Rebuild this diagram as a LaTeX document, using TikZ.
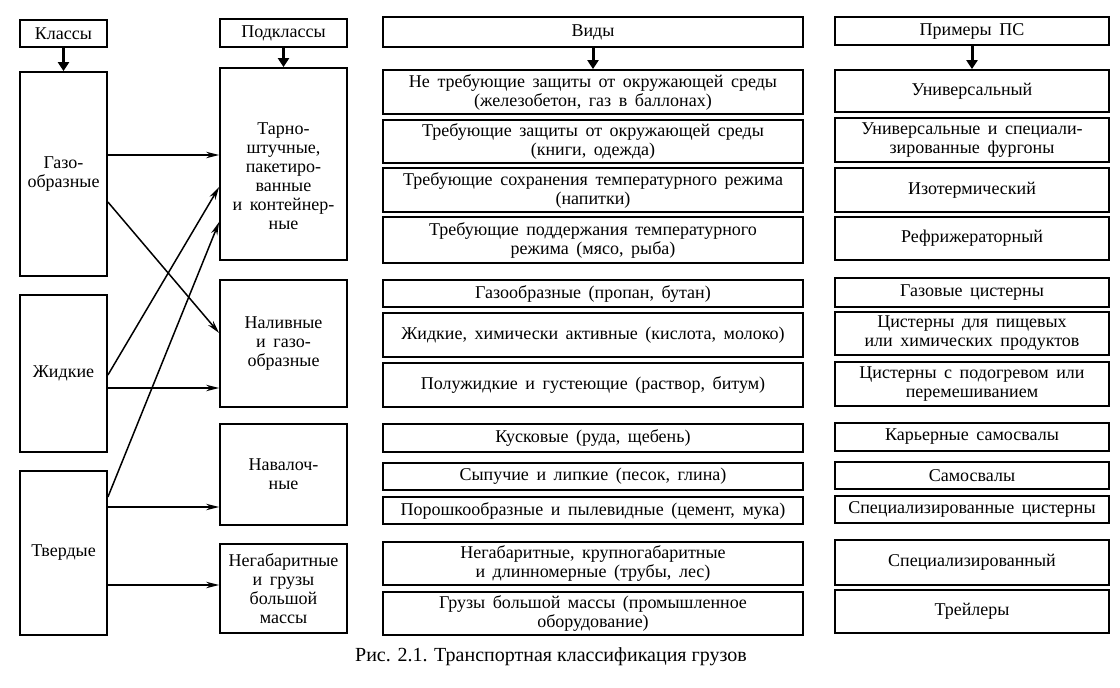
\documentclass[tikz,border=0pt]{standalone}
\usepackage{fontspec}
\setmainfont{Liberation Serif}
\usetikzlibrary{arrows.meta,positioning,calc}

\newcommand\boxfont{\fontsize{18}{19}\selectfont
  \spaceskip=0.42em plus 0.1em minus 0.05em\relax}

\tikzset{
  box/.style={draw, line width=1.8pt, align=center, inner sep=1pt,
    font=\boxfont},
  col1/.style={box, minimum width=87},
  col2/.style={box, minimum width=127},
  col3/.style={box, minimum width=420},
  col4/.style={box, minimum width=274},
  head/.style={-{Triangle[length=9pt,width=11pt]}, line width=3pt},
  link/.style={-{Stealth[length=13pt,width=6.5pt]}, line width=1.5pt}
}

\begin{document}
\begin{tikzpicture}[x=1pt,y=-1pt]
  \useasboundingbox (0,0) rectangle (1120,688);

  % classes
  \node[col1, minimum height=27] (kl) at (63.5,33.5) {Классы};
  \node[col1, minimum height=204] (gaz) at (63.5,174) {Газо-\\образные};
  \node[col1, minimum height=157] (zhid) at (63.5,373.5) {Жидкие};
  \node[col1, minimum height=164] (tverd) at (63.5,553) {Твердые};

  % subclasses
  \node[col2, minimum height=28] (pk) at (283.5,33) {Подклассы};
  \node[col2, minimum height=192] (tarno) at (283.5,164)
    {\strut\\[3pt]Тарно-\\штучные,\\пакетиро-\\ванные\\и контейнер-\\ные};
  \node[col2, minimum height=127] (naliv) at (283.5,343.5)
    {Наливные\\и газо-\\образные};
  \node[col2, minimum height=101] (naval) at (283.5,474.5) {Навалоч-\\ные};
  \node[col2, minimum height=89] (negab) at (283.5,588.5)
    {Негабаритные\\и грузы\\большой\\массы};

  % kinds
  \node[col3, minimum height=30] (vid) at (593,32) {Виды};
  \foreach \n/\y/\h/\txt in {
    1/92/44/{Не требующие защиты от окружающей среды\\(железобетон, газ в баллонах)},
    2/141.5/43/{Требующие защиты от окружающей среды\\(книги, одежда)},
    3/190/44/{Требующие сохранения температурного режима\\(напитки)},
    4/240/46/{Требующие поддержания температурного\\режима (мясо, рыба)},
    5/293.5/27/{Газообразные (пропан, бутан)},
    6/335/44/{Жидкие, химически активные (кислота, молоко)},
    7/385/44/{Полужидкие и густеющие (раствор, битум)},
    8/438/28/{Кусковые (руда, щебень)},
    9/476.5/27/{Сыпучие и липкие (песок, глина)},
    10/510.5/27/{Порошкообразные и пылевидные (цемент, мука)},
    11/563.5/43/{Негабаритные, крупногабаритные\\и длинномерные (трубы, лес)},
    12/613.5/43/{Грузы большой массы (промышленное\\оборудование)}} {
    \node[col3, minimum height=\h] (v\n) at (593,\y) {\txt};
  }

  % vehicles
  \node[col4, minimum height=28] (pr) at (972,31) {Примеры ПС};
  \foreach \n/\y/\h/\txt in {
    1/91/42/{Универсальный},
    2/140/44/{Универсальные и специали-\\зированные фургоны},
    3/190/44/{Изотермический},
    4/238.5/43/{Рефрижераторный},
    5/292.5/29/{Газовые цистерны},
    6/333.5/43/{Цистерны для пищевых\\или химических продуктов},
    7/384/44/{Цистерны с подогревом или\\перемешиванием},
    8/437/28/{Карьерные самосвалы},
    9/475.5/27/{Самосвалы},
    10/509.5/27/{Специализированные цистерны},
    11/562.5/45/{Специализированный},
    12/611.5/43/{Трейлеры}} {
    \node[col4, minimum height=\h] (p\n) at (972,\y) {\txt};
  }

  % header arrows
  \draw[head] (kl) -- (gaz);
  \draw[head] (pk) -- (tarno);
  \draw[head] (vid) -- (v1);
  \draw[head] (pr) -- (p1);

  % classes -> subclasses
  \coordinate (g1) at ([yshift=19pt]gaz.east);
  \draw[link] (g1) -- (g1 -| tarno.west);
  \draw[link] ([yshift=-28pt]gaz.east) -- ([yshift=10.5pt]naliv.west);
  \draw[link] ([yshift=-1.5pt]zhid.east) -- ([yshift=-23pt]tarno.west);
  \coordinate (z1) at ([yshift=-14.5pt]zhid.east);
  \draw[link] (z1) -- (z1 -| naliv.west);
  \draw[link] ([yshift=56pt]tverd.east) -- ([yshift=-58pt]tarno.west);
  \coordinate (t1) at ([yshift=46pt]tverd.east);
  \draw[link] (t1) -- (t1 -| naval.west);
  \coordinate (t2) at ([yshift=-32pt]tverd.east);
  \draw[link] (t2) -- (t2 -| negab.west);

  \node[font=\fontsize{20}{22}\selectfont] (cap) at (551,657)
    {Рис. 2.1. Транспортная классификация грузов};
\end{tikzpicture}
\end{document}
